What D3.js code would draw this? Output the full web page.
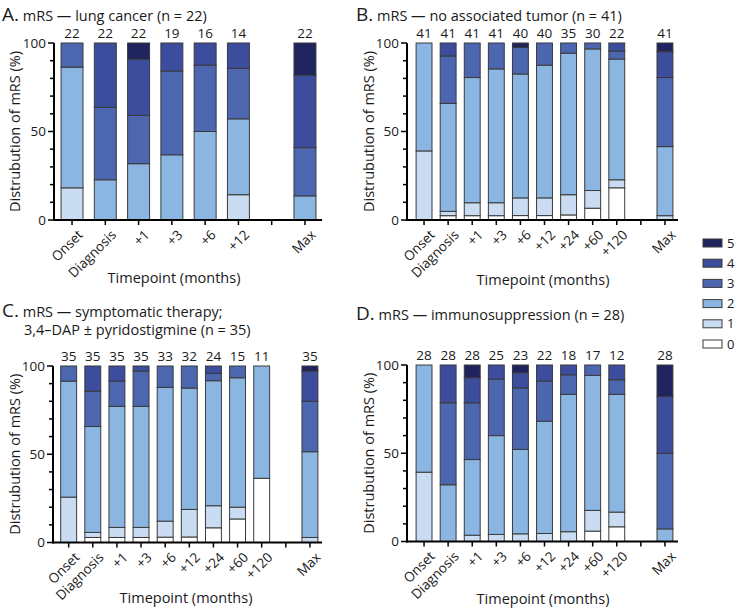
<!DOCTYPE html>
<html>
<head>
<meta charset="utf-8">
<script src="https://cdn.jsdelivr.net/npm/d3@7"></script>
<style>
  body { margin: 0; background: #fff; }
  svg text { font-family: "Open Sans", "Noto Sans", sans-serif; fill: #1a1a1a; }
</style>
</head>
<body>
<div id="chart"></div>
<script>
'use strict';

// mRS scores 0..5, colours from white to navy
var SCORES = [0, 1, 2, 3, 4, 5];
var SCORE_COLOR = ['#ffffff', '#c9dcf2', '#8cb6e2', '#4c66b0', '#3d4d9d', '#1f235e'];

var timesShort = ['Onset', 'Diagnosis', '+1', '+3', '+6', '+12', '', 'Max'];
var timesLong = ['Onset', 'Diagnosis', '+1', '+3', '+6', '+12', '+24', '+60', '+120', '', 'Max'];

// counts per score [0,1,2,3,4,5] at each timepoint, null = empty slot
var nA = [22, 22, 22, 19, 16, 14, null, 22];
var mrsA = [
  [0, 4, 15, 3, 0, 0],
  [0, 0, 5, 9, 8, 0],
  [0, 0, 7, 6, 7, 2],
  [0, 0, 7, 9, 3, 0],
  [0, 0, 8, 6, 2, 0],
  [0, 2, 6, 4, 2, 0],
  null,
  [0, 0, 3, 6, 9, 4]
];

var nB = [41, 41, 41, 41, 40, 40, 35, 30, 22, null, 41];
var mrsB = [
  [0, 16, 25, 0, 0, 0],
  [1, 1, 25, 11, 3, 0],
  [1, 3, 29, 8, 0, 0],
  [1, 3, 31, 6, 0, 0],
  [1, 4, 28, 6, 0, 1],
  [1, 4, 30, 5, 0, 0],
  [1, 4, 28, 2, 0, 0],
  [2, 3, 24, 1, 0, 0],
  [4, 1, 15, 1, 1, 0],
  null,
  [0, 1, 16, 16, 6, 2]
];

var nC = [35, 35, 35, 35, 33, 32, 24, 15, 11, null, 35];
var mrsC = [
  [0, 9, 23, 3, 0, 0],
  [1, 1, 21, 7, 5, 0],
  [1, 2, 24, 5, 3, 0],
  [1, 2, 24, 7, 1, 0],
  [1, 3, 25, 4, 0, 0],
  [1, 5, 22, 4, 0, 0],
  [2, 3, 17, 1, 1, 0],
  [2, 1, 11, 1, 0, 0],
  [4, 0, 7, 0, 0, 0],
  null,
  [0, 1, 17, 10, 6, 1]
];

var nD = [28, 28, 28, 25, 23, 22, 18, 17, 12, null, 28];
var mrsD = [
  [0, 11, 17, 0, 0, 0],
  [0, 0, 9, 13, 6, 0],
  [0, 1, 12, 9, 4, 2],
  [0, 1, 14, 8, 2, 0],
  [0, 1, 11, 8, 2, 1],
  [0, 1, 14, 5, 2, 0],
  [0, 1, 14, 2, 1, 0],
  [1, 2, 13, 1, 0, 0],
  [1, 1, 8, 1, 1, 0],
  null,
  [0, 0, 2, 12, 9, 5]
];

var svg = d3.select('#chart').append('svg')
  .attr('width', 738)
  .attr('height', 610);

// layout of each panel, in pixels
var panels = [
  { letter: 'A.', title: ['mRS \u2014 lung cancer (n = 22)'], tx: 2, ty: 21,
    times: timesShort, n: nA, mrs: mrsA,
    axisX: 54, axisEnd: 322, band: [55.4, 321.6], top: 43, bottom: 220,
    ylabX: 15, xlabX: 174, xlabY: 283 },
  { letter: 'B.', title: ['mRS \u2014 no associated tumor (n = 41)'], tx: 356, ty: 21,
    times: timesLong, n: nB, mrs: mrsB,
    axisX: 407, axisEnd: 678, band: [412, 677], top: 43, bottom: 220,
    ylabX: 369, xlabX: 543, xlabY: 285 },
  { letter: 'C.', title: ['mRS \u2014 symptomatic therapy;', '3,4\u2013DAP \u00b1 pyridostigmine (n = 35)'], tx: 2, ty: 317,
    times: timesLong, n: nC, mrs: mrsC,
    axisX: 53, axisEnd: 322, band: [56.6, 322], top: 366, bottom: 542.5,
    ylabX: 15, xlabX: 186, xlabY: 603 },
  { letter: 'D.', title: ['mRS \u2014 immunosuppression (n = 28)'], tx: 356, ty: 320,
    times: timesLong, n: nD, mrs: mrsD,
    axisX: 407, axisEnd: 678, band: [412, 677], top: 365, bottom: 541.5,
    ylabX: 369, xlabX: 543, xlabY: 604 }
];

panels.forEach(drawPanel);
drawLegend();

function drawPanel(p) {
  var g = svg.append('g');

  // title
  var t = g.append('text')
    .attr('x', p.tx)
    .attr('y', p.ty);
  t.append('tspan').text(p.letter).style('font-size', '19px');
  t.append('tspan').text(' ' + p.title[0]).style('font-size', '14.5px');
  if (p.title.length > 1) {
    g.append('text')
      .attr('x', p.tx + 22)
      .attr('y', p.ty + 18)
      .style('font-size', '14.5px')
      .text(p.title[1]);
  }

  var keys = p.times.map(function(d, i) { return 'k' + i; });
  var x = d3.scaleBand()
    .domain(keys)
    .range(p.band)
    .paddingInner(0.34)
    .paddingOuter(0.17);
  var y = d3.scaleLinear().domain([0, 100]).range([p.bottom, p.top]);

  // stacked bars
  p.mrs.forEach(function(counts, i) {
    if (!counts) return;
    var total = p.n[i];
    var acc = 0;
    var segs = [];
    SCORES.forEach(function(s) {
      if (counts[s] > 0) {
        segs.push({ score: s, y0: acc / total * 100, y1: (acc + counts[s]) / total * 100 });
        acc += counts[s];
      }
    });
    g.selectAll(null)
      .data(segs)
      .enter()
      .append('rect')
      .attr('x', x(keys[i]))
      .attr('width', x.bandwidth())
      .attr('y', function(d) { return y(d.y1); })
      .attr('height', function(d) { return y(d.y0) - y(d.y1); })
      .style('fill', function(d) { return SCORE_COLOR[d.score]; })
      .style('stroke', '#3a3a3a')
      .style('stroke-width', 1);

    g.append('text')
      .attr('x', x(keys[i]) + x.bandwidth() / 2)
      .attr('y', p.top - 5)
      .attr('text-anchor', 'middle')
      .style('font-size', '13.5px')
      .text(total);
  });

  // y axis with minor ticks
  g.append('g')
    .selectAll('line')
    .data(d3.range(0, 101, 10))
    .enter()
    .append('line')
    .attr('x1', function(d) { return d % 50 === 0 ? p.axisX - 6 : p.axisX - 4; })
    .attr('x2', p.axisX)
    .attr('y1', function(d) { return y(d); })
    .attr('y2', function(d) { return y(d); })
    .style('stroke', '#000')
    .style('stroke-width', 1.5);
  g.append('line')
    .attr('x1', p.axisX).attr('x2', p.axisX)
    .attr('y1', p.top).attr('y2', p.bottom + 1)
    .style('stroke', '#000').style('stroke-width', 2);
  g.selectAll(null)
    .data([0, 50, 100])
    .enter()
    .append('text')
    .attr('x', p.axisX - 8)
    .attr('y', function(d) { return y(d); })
    .attr('dy', '0.35em')
    .attr('text-anchor', 'end')
    .style('font-size', '13.5px')
    .text(function(d) { return d; });

  g.append('text')
    .attr('transform', 'translate(' + p.ylabX + ',' + ((p.top + p.bottom) / 2) + ') rotate(-90)')
    .attr('text-anchor', 'middle')
    .attr('dy', '0.35em')
    .style('font-size', '14.5px')
    .text('Distrubution of mRS (%)');

  // x axis
  g.append('line')
    .attr('x1', p.axisX - 1).attr('x2', p.axisEnd)
    .attr('y1', p.bottom).attr('y2', p.bottom)
    .style('stroke', '#000').style('stroke-width', 2);
  keys.forEach(function(k, i) {
    var cx = x(k) + x.bandwidth() / 2;
    g.append('line')
      .attr('x1', cx).attr('x2', cx)
      .attr('y1', p.bottom).attr('y2', p.bottom + 5)
      .style('stroke', '#000').style('stroke-width', 1.5);
    if (p.times[i]) {
      g.append('text')
        .attr('transform', 'translate(' + (cx + 5) + ',' + (p.bottom + 9) + ') rotate(-45)')
        .attr('text-anchor', 'end')
        .attr('dy', '0.7em')
        .style('font-size', '13.5px')
        .text(p.times[i]);
    }
  });

  g.append('text')
    .attr('x', p.xlabX)
    .attr('y', p.xlabY)
    .attr('text-anchor', 'middle')
    .style('font-size', '14.5px')
    .text('Timepoint (months)');
}

function drawLegend() {
  var order = SCORES.slice().reverse();
  var leg = svg.append('g');
  var rowY = d3.scalePoint().domain(order).range([243, 344]);
  order.forEach(function(s) {
    leg.append('rect')
      .attr('x', 703)
      .attr('y', rowY(s) - 4)
      .attr('width', 19)
      .attr('height', 8)
      .style('fill', SCORE_COLOR[s])
      .style('stroke', '#3a3a3a')
      .style('stroke-width', 1);
    leg.append('text')
      .attr('x', 727)
      .attr('y', rowY(s))
      .attr('dy', '0.35em')
      .style('font-size', '13px')
      .text(s);
  });
}
</script>
</body>
</html>
